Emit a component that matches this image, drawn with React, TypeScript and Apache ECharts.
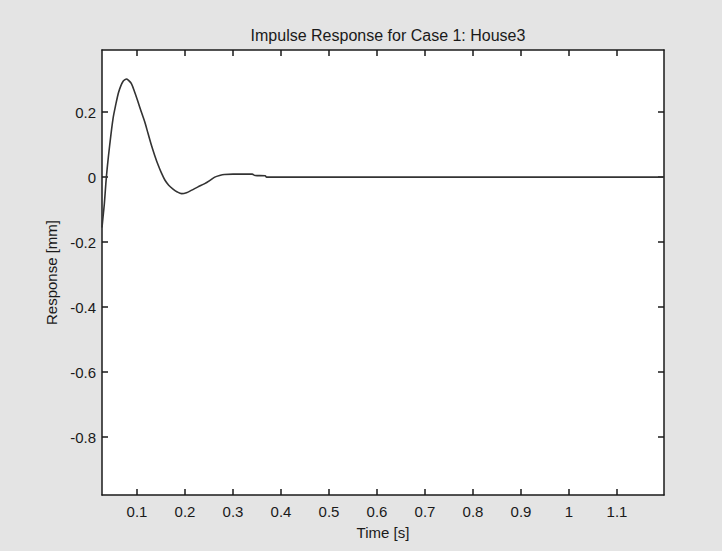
import React, { useEffect, useRef } from "react";
import * as echarts from "echarts";

const titleText = "Impulse Response for Case 1: House3";
const xName = "Time [s]";
const yName = "Response [mm]";

const timeS = [
  0.027, 0.029, 0.032, 0.035, 0.038, 0.043, 0.05, 0.056, 0.061, 0.066, 0.071, 0.075,
  0.078, 0.082, 0.088, 0.095, 0.102, 0.109, 0.116, 0.123, 0.13, 0.137, 0.144, 0.151,
  0.158, 0.166, 0.175, 0.184, 0.193, 0.203, 0.214, 0.227, 0.241, 0.252, 0.262, 0.272,
  0.282, 0.3, 0.32, 0.34, 0.346, 0.367, 0.37, 0.5, 0.7, 0.9, 1.1, 1.198,
];
const responseMm = [
  -0.155, -0.125, -0.08, -0.02, 0.03, 0.098, 0.18, 0.225, 0.258, 0.28, 0.295, 0.3,
  0.302, 0.298, 0.288, 0.262, 0.232, 0.2, 0.17, 0.134, 0.098, 0.066, 0.037, 0.012,
  -0.009, -0.025, -0.037, -0.046, -0.051, -0.048, -0.04, -0.03, -0.02, -0.01, 0.0, 0.005,
  0.008, 0.009, 0.009, 0.009, 0.005, 0.004, 0.0, 0.0, 0.0, 0.0, 0.0, 0.0,
];

const xTicks = [0.1, 0.2, 0.3, 0.4, 0.5, 0.6, 0.7, 0.8, 0.9, 1, 1.1];
const yTicks = [-0.8, -0.6, -0.4, -0.2, 0, 0.2];
const xRange = [0.027, 1.198];
const yRange = [-0.978, 0.391];

export default function App() {
  const ref = useRef<HTMLDivElement>(null);
  useEffect(() => {
    if (!ref.current) return;
    const chart = echarts.init(ref.current, null, { renderer: "svg" });
    const font = "Liberation Sans, Arial, sans-serif";
    const axisLineStyle = { color: "#1a1a1a", width: 1.5 };
    const data = timeS.map((t, i) => [t, responseMm[i]]);
    chart.setOption({
      animation: false,
      backgroundColor: "#e4e4e4",
      title: {
        text: titleText,
        left: 383,
        textAlign: "center",
        top: 22,
        textStyle: { fontFamily: font, fontSize: 16, fontWeight: "normal", color: "#1a1a1a" },
      },
      grid: {
        left: 102,
        right: 58,
        top: 50,
        bottom: 56,
        show: true,
        backgroundColor: "#ffffff",
        borderWidth: 0,
      },
      xAxis: [
        {
          type: "value",
          min: xRange[0],
          max: xRange[1],
          position: "bottom",
          name: xName,
          nameLocation: "middle",
          nameGap: 30,
          nameTextStyle: { fontFamily: font, fontSize: 15, color: "#1a1a1a" },
          axisLine: { show: true, onZero: false, lineStyle: axisLineStyle },
          axisTick: { show: true, inside: true, length: 6, customValues: xTicks, lineStyle: axisLineStyle },
          axisLabel: { show: true, customValues: xTicks, margin: 9, fontFamily: font, fontSize: 15, color: "#1a1a1a", showMinLabel: true, showMaxLabel: true },
          splitLine: { show: false },
        },
        {
          type: "value",
          min: xRange[0],
          max: xRange[1],
          position: "top",
          axisLine: { show: true, onZero: false, lineStyle: axisLineStyle },
          axisTick: { show: true, inside: true, length: 6, customValues: xTicks, lineStyle: axisLineStyle },
          axisLabel: { show: false },
          splitLine: { show: false },
        },
      ],
      yAxis: [
        {
          type: "value",
          min: yRange[0],
          max: yRange[1],
          position: "left",
          name: yName,
          nameLocation: "middle",
          nameGap: 42,
          nameTextStyle: { fontFamily: font, fontSize: 15, color: "#1a1a1a" },
          axisLine: { show: true, onZero: false, lineStyle: axisLineStyle },
          axisTick: { show: true, inside: true, length: 6, customValues: yTicks, lineStyle: axisLineStyle },
          axisLabel: { show: true, customValues: yTicks, margin: 6, fontFamily: font, fontSize: 15, color: "#1a1a1a" },
          splitLine: { show: false },
        },
        {
          type: "value",
          min: yRange[0],
          max: yRange[1],
          position: "right",
          axisLine: { show: true, onZero: false, lineStyle: axisLineStyle },
          axisTick: { show: true, inside: true, length: 6, customValues: yTicks, lineStyle: axisLineStyle },
          axisLabel: { show: false },
          splitLine: { show: false },
        },
      ],
      series: [
        {
          type: "line",
          data,
          xAxisIndex: 0,
          yAxisIndex: 0,
          showSymbol: false,
          smooth: 0.3,
          lineStyle: { color: "#333333", width: 1.6 },
          clip: true,
        },
      ],
    });
    return () => chart.dispose();
  }, []);
  return (
    <div
      ref={ref}
      style={{ position: "fixed", left: 0, top: 0, width: 722, height: 551 }}
    />
  );
}
